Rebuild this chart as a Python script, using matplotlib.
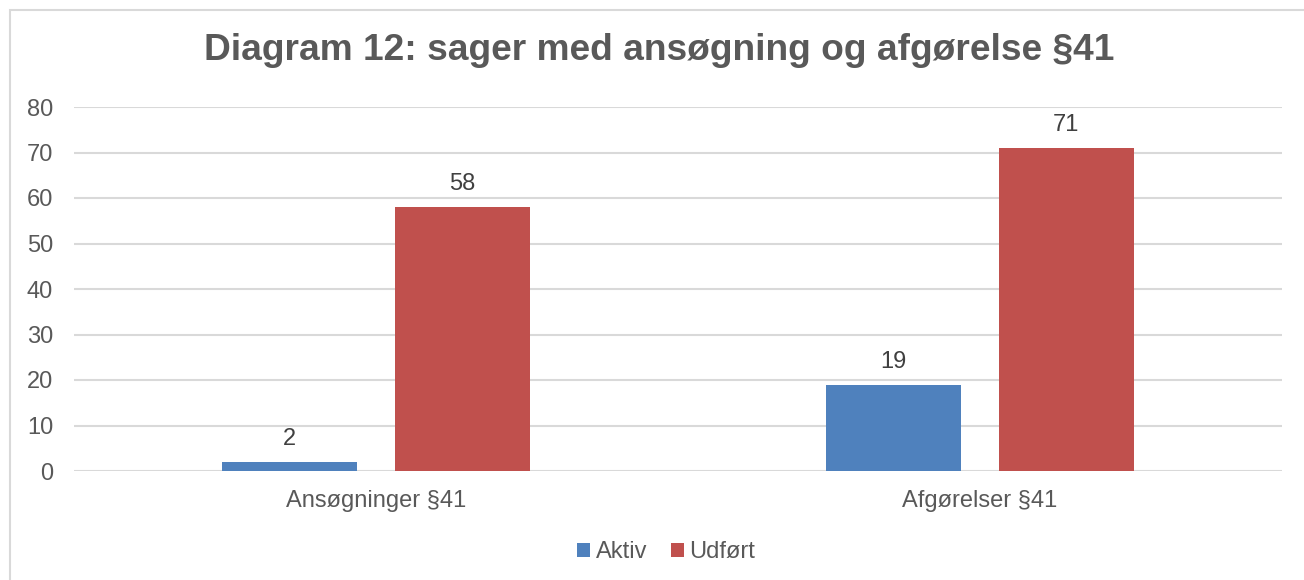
import numpy as np
import matplotlib.pyplot as plt
from matplotlib.patches import Rectangle

# Data
categories = ["Ansøgninger §41", "Afgørelser §41"]
aktiv = [2, 19]
udfoert = [58, 71]
series_names = ["Aktiv", "Udført"]
yticks = [0, 10, 20, 30, 40, 50, 60, 70, 80]

plt.rcParams['font.family'] = ['Liberation Sans', 'DejaVu Sans']

blue = '#4F81BD'
red = '#C0504D'
grey_txt = '#595959'
fs = 17

fig = plt.figure(figsize=(13.04, 5.8), dpi=100)

# outer chart frame (cropped at right and bottom)
fig.patches.append(Rectangle((10 / 1304, -0.1), 1.2, 1 - 10 / 580 + 0.1,
                             transform=fig.transFigure, fill=False,
                             edgecolor='#d9d9d9', linewidth=1.5))

ax = fig.add_axes([74 / 1304, 1 - 471 / 580, (1282 - 74) / 1304, (471 - 107) / 580])

x = np.arange(len(categories))
w = 0.223
b1 = ax.bar(x - 0.143, aktiv, w, color=blue, label=series_names[0], zorder=3)
b2 = ax.bar(x + 0.143, udfoert, w, color=red, label=series_names[1], zorder=3)

for bars in (b1, b2):
    ax.bar_label(bars, padding=8.5, fontsize=fs, color='#404040')

ax.set_xlim(-0.5, 1.5)
ax.set_ylim(0, 80)
ax.set_yticks(yticks)
ax.set_xticks(x)
ax.set_xticklabels(categories)
ax.tick_params(axis='both', length=0, labelsize=fs, labelcolor=grey_txt)
ax.tick_params(axis='y', pad=15)
ax.tick_params(axis='x', pad=14)
ax.yaxis.grid(True, color='#d9d9d9', linewidth=1.5, zorder=0)
for s in ax.spines.values():
    s.set_visible(False)

fig.text(659 / 1304, 1 - 51 / 580, "Diagram 12: sager med ansøgning og afgørelse §41",
         ha='center', va='center', fontsize=26.7, fontweight='bold', color=grey_txt)

leg = fig.legend(handles=[b1, b2], labels=series_names, loc='center',
                 bbox_to_anchor=(666 / 1304, 1 - 552 / 580), ncol=2, frameon=False,
                 fontsize=fs, handlelength=0.55, handleheight=0.55,
                 handletextpad=0.25, columnspacing=1.0)
for t in leg.get_texts():
    t.set_color(grey_txt)

fig.savefig('out.png', dpi=100)
